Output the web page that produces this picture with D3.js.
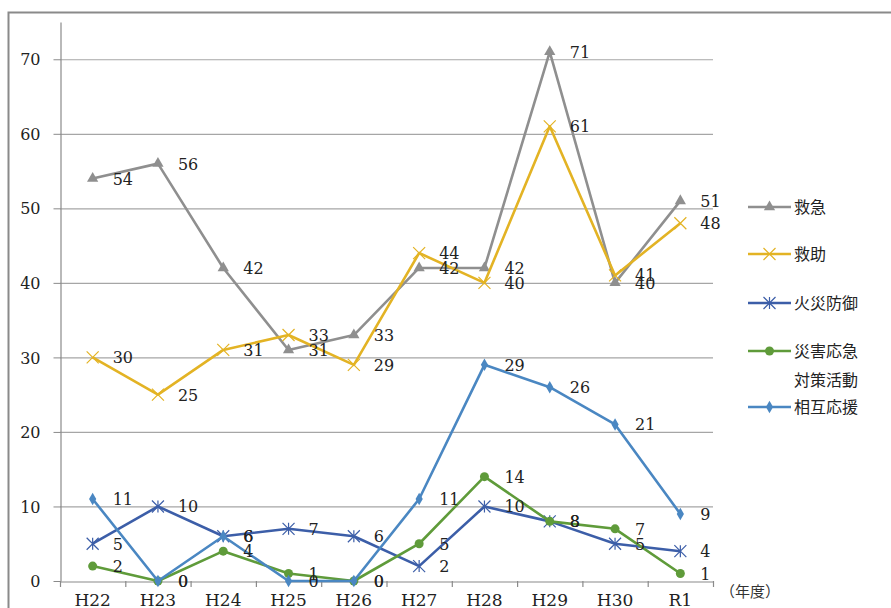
<!DOCTYPE html>
<html>
<head>
<meta charset="utf-8">
<script src="https://cdn.jsdelivr.net/npm/d3@7"></script>
<style>
  html, body { margin: 0; padding: 0; background: #fff; }
  svg { display: block; }
</style>
</head>
<body>
<div id="chart"></div>
<script>
const width = 891, height = 608;

const years = ["H22", "H23", "H24", "H25", "H26", "H27", "H28", "H29", "H30", "R1"];
const yTicks = [0, 10, 20, 30, 40, 50, 60, 70];

const kyukyu = [54, 56, 42, 31, 33, 42, 42, 71, 40, 51];
const kyujo = [30, 25, 31, 33, 29, 44, 40, 61, 41, 48];
const kasai = [5, 10, 6, 7, 6, 2, 10, 8, 5, 4];
const saigai = [2, 0, 4, 1, 0, 5, 14, 8, 7, 1];
const sogo = [11, 0, 6, 0, 0, 11, 29, 26, 21, 9];

const series = [
  {name: ["救急"], values: kyukyu, color: "#8f8f8f", marker: "triangle"},
  {name: ["救助"], values: kyujo, color: "#e3b324", marker: "cross"},
  {name: ["火災防御"], values: kasai, color: "#3c5ea8", marker: "star"},
  {name: ["災害応急", "対策活動"], values: saigai, color: "#5f9b3a", marker: "circle"},
  {name: ["相互応援"], values: sogo, color: "#4a87c2", marker: "diamond"}
];

const numFont = "'DejaVu Serif', 'Liberation Serif', serif";
const jpFont = "'Noto Sans CJK JP', sans-serif";

const svg = d3.select("#chart").append("svg")
  .attr("width", width)
  .attr("height", height);

// outer frame (only top and left edges are inside the picture)
svg.append("path")
  .attr("d", "M8.5,620 V12.5 H900")
  .attr("fill", "none")
  .attr("stroke", "#8a8a8a")
  .attr("stroke-width", 2);

const x = d3.scaleBand().domain(years).range([60, 713]);
const y = d3.scaleLinear().domain([0, 75]).range([581, 22]);

// gridlines
svg.append("g")
  .selectAll("line").data(yTicks.filter(d => d > 0))
  .join("line")
  .attr("x1", 60).attr("x2", 713)
  .attr("y1", d => y(d) + 0.5).attr("y2", d => y(d) + 0.5)
  .attr("stroke", "#a6a6a6")
  .attr("stroke-width", 1.2);

// y axis
const yAxis = svg.append("g")
  .attr("transform", "translate(60.5,0)")
  .call(d3.axisLeft(y).tickValues(yTicks).tickSize(7).tickSizeOuter(0));
yAxis.select(".domain").attr("stroke", "#8a8a8a").attr("stroke-width", 1.2);
yAxis.selectAll(".tick line").attr("stroke", "#8a8a8a");
yAxis.selectAll(".tick text")
  .attr("x", -20)
  .attr("dy", "0.35em")
  .attr("font-family", numFont)
  .attr("font-size", 16)
  .attr("fill", "#222");

// x axis
const xAxis = svg.append("g")
  .attr("transform", `translate(0,${y(0) + 0.5})`)
  .call(d3.axisBottom(x).tickSize(0).tickSizeOuter(0));
xAxis.select(".domain").attr("stroke", "#8a8a8a").attr("stroke-width", 1.2);
xAxis.selectAll(".tick text")
  .attr("y", 12)
  .attr("dy", "0.71em")
  .attr("font-family", numFont)
  .attr("font-size", 17)
  .attr("fill", "#222");
// category separators
svg.append("g")
  .selectAll("line").data(years.concat(["end"]))
  .join("line")
  .attr("x1", (d, i) => x.range()[0] + i * x.step() + 0.5)
  .attr("x2", (d, i) => x.range()[0] + i * x.step() + 0.5)
  .attr("y1", y(0))
  .attr("y2", y(0) + 6)
  .attr("stroke", "#8a8a8a")
  .attr("stroke-width", 1.2);

svg.append("text")
  .attr("x", 720).attr("y", 597)
  .attr("font-family", jpFont)
  .attr("font-size", 15)
  .attr("fill", "#333")
  .text("（年度）");

const line = d3.line()
  .x((d, i) => x(years[i]) + x.bandwidth() / 2)
  .y(d => y(d));

function drawMarker(g, type, color) {
  if (type === "triangle") {
    g.append("path").attr("d", d3.symbol(d3.symbolTriangle, 55)()).attr("fill", color);
  } else if (type === "circle") {
    g.append("circle").attr("r", 4.5).attr("fill", color);
  } else if (type === "diamond") {
    g.append("path").attr("d", d3.symbol(d3.symbolDiamond, 45)()).attr("fill", color);
  } else if (type === "cross") {
    g.append("path").attr("d", "M-6,-6L6,6M-6,6L6,-6")
      .attr("stroke", color).attr("stroke-width", 1.2).attr("fill", "none");
  } else if (type === "star") {
    g.append("path").attr("d", "M-6,-6L6,6M-6,6L6,-6M0,-6V6")
      .attr("stroke", color).attr("stroke-width", 1.2).attr("fill", "none");
  }
}

series.forEach(s => {
  svg.append("path")
    .datum(s.values)
    .attr("d", line)
    .attr("fill", "none")
    .attr("stroke", s.color)
    .attr("stroke-width", 2.6)
    .attr("stroke-linejoin", "round");

  s.values.forEach((v, i) => {
    const g = svg.append("g")
      .attr("transform", `translate(${x(years[i]) + x.bandwidth() / 2},${y(v)})`);
    drawMarker(g, s.marker, s.color);
  });
});

// data labels
series.forEach(s => {
  svg.append("g")
    .selectAll("text").data(s.values)
    .join("text")
    .attr("x", (d, i) => x(years[i]) + x.bandwidth() / 2 + 20)
    .attr("y", d => y(d) + 6)
    .attr("font-family", numFont)
    .attr("font-size", 16)
    .attr("fill", "#222")
    .text(d => d);
});

// legend
const legendY = [207, 254, 303, 351, 407];
series.forEach((s, i) => {
  const g = svg.append("g").attr("transform", `translate(748,${legendY[i]})`);
  g.append("line")
    .attr("x1", 0).attr("x2", 43)
    .attr("stroke", s.color)
    .attr("stroke-width", 2.6);
  const m = g.append("g").attr("transform", "translate(21.5,0)");
  drawMarker(m, s.marker, s.color);
  s.name.forEach((n, j) => {
    g.append("text")
      .attr("x", 46)
      .attr("y", j * 29)
      .attr("dy", "0.35em")
      .attr("font-family", jpFont)
      .attr("font-size", 16)
      .attr("fill", "#222")
      .text(n);
  });
});
</script>
</body>
</html>
